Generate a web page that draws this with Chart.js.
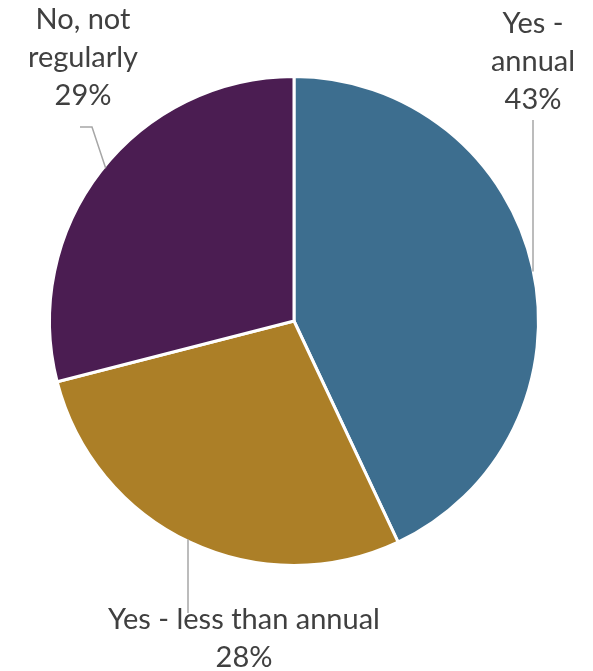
<!DOCTYPE html>
<html>
<head>
<meta charset="utf-8">
<script src="https://cdn.jsdelivr.net/npm/chart.js@4/dist/chart.umd.min.js"></script>
<style>
  html, body { margin: 0; padding: 0; background: #fff; }
  #wrap { width: 593px; height: 671px; }
</style>
</head>
<body>
<div id="wrap"><canvas id="pie"></canvas></div>
<script>
// survey answers, in drawing order (clockwise from 12 o'clock)
const categories = ['Yes - annual', 'Yes - less than annual', 'No, not regularly'];
const shares = [43, 28, 29];
const sliceColors = ['#3d6e8f', '#ac7f27', '#4b1d52'];

// label text lines per slice, and where each label block sits
const labelLines = [
  ['Yes -', 'annual', '43%'],
  ['Yes - less than annual', '28%'],
  ['No, not', 'regularly', '29%']
];
const labelSpots = [
  { x: 533, y: 24, lineX: 533, lineTop: 120 },
  { x: 244, y: 620, lineX: 188, lineTop: 613 },
  { x: 83, y: 20, elbowX: 80, elbowY: 127, lineX: 92 }
];

// draws the outside labels and their grey leader lines
const outsideLabels = {
  id: 'outsideLabels',
  afterDraw(chart) {
    const ctx = chart.ctx;
    const arc = chart.getDatasetMeta(0).data[0];
    const cx = arc.x, cy = arc.y, r = arc.outerRadius;

    ctx.save();
    ctx.strokeStyle = '#a6a6a6';
    ctx.lineWidth = 1.5;

    // 43%: straight down to the rim
    let s = labelSpots[0];
    let dy = Math.sqrt(r * r - (s.lineX - cx) * (s.lineX - cx));
    ctx.beginPath();
    ctx.moveTo(s.lineX, s.lineTop);
    ctx.lineTo(s.lineX, cy - dy + 2);
    ctx.stroke();

    // 28%: straight up to the rim
    s = labelSpots[1];
    dy = Math.sqrt(r * r - (s.lineX - cx) * (s.lineX - cx));
    ctx.beginPath();
    ctx.moveTo(s.lineX, s.lineTop);
    ctx.lineTo(s.lineX, cy + dy - 2);
    ctx.stroke();

    // 29%: short shelf, then a slant to the rim
    s = labelSpots[2];
    const a = Math.atan2(166 - cy, 103 - cx);
    ctx.beginPath();
    ctx.moveTo(s.elbowX, s.elbowY);
    ctx.lineTo(s.lineX, s.elbowY);
    ctx.lineTo(cx + Math.cos(a) * (r - 2), cy + Math.sin(a) * (r - 2));
    ctx.stroke();

    ctx.fillStyle = '#404040';
    ctx.font = '29px Lato, "Open Sans", sans-serif';
    ctx.textAlign = 'center';
    ctx.textBaseline = 'middle';
    labelLines.forEach((lines, i) => {
      const spot = labelSpots[i];
      lines.forEach((t, k) => ctx.fillText(t, spot.x, spot.y + k * 38));
    });
    ctx.restore();
  }
};

new Chart(document.getElementById('pie'), {
  type: 'pie',
  data: {
    labels: categories,
    datasets: [{
      data: shares,
      backgroundColor: sliceColors,
      borderColor: '#ffffff',
      borderWidth: 3
    }]
  },
  options: {
    responsive: true,
    maintainAspectRatio: false,
    animation: false,
    layout: { padding: { left: 48, right: 53, top: 75, bottom: 104 } },
    plugins: {
      legend: { display: false },
      tooltip: { enabled: false }
    }
  },
  plugins: [outsideLabels]
});
</script>
</body>
</html>
